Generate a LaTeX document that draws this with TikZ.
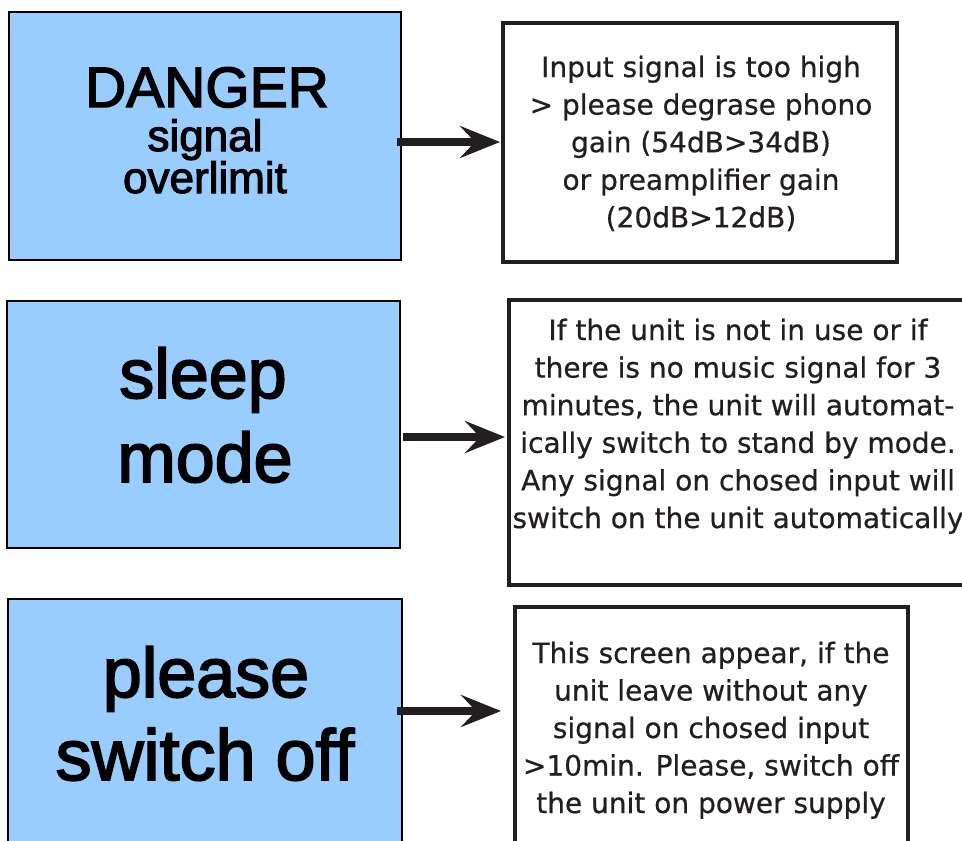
\documentclass[tikz,border=0pt]{standalone}
\usepackage{fontspec}
\setmainfont{Liberation Sans}
\newfontfamily\descfont[FakeBold=0.6]{DejaVu Sans}
\newfontfamily\headfont[FakeBold=2.5]{Liberation Sans}
\usetikzlibrary{fit,arrows.meta}
\definecolor{panelblue}{HTML}{99CCFF}
\definecolor{ink}{HTML}{231F20}
\tikzset{
  bluebox/.style={draw=black, line width=1.6pt, fill=panelblue, inner sep=0pt, outer sep=0pt},
  descbox/.style={draw=ink, line width=4pt, fill=white, inner sep=0pt, outer sep=0pt},
  arr/.style={draw=ink, line width=8pt, -{Stealth[length=40pt,width=32pt,inset=15pt]}},
  rtext/.style={anchor=base, inner sep=0pt, text=ink, font=\descfont\fontsize{28}{34}\selectfont},
  bigtext/.style={anchor=base, inner sep=0pt, text=black, font=\headfont\fontsize{70}{80}\selectfont},
  dangtext/.style={anchor=base, inner sep=0pt, text=black, font=\headfont\fontsize{57}{64}\selectfont},
  subtext/.style={anchor=base, inner sep=0pt, text=black, font=\headfont\fontsize{44}{50}\selectfont},
}
\begin{document}
\begin{tikzpicture}[x=1pt, y=-1pt]
\useasboundingbox (0,0) rectangle (962,841);
% left panels
\node[bluebox, fit={(9,12) (401,260)}] (b1) {};
\node[bluebox, fit={(7,301) (400,548)}] (b2) {};
\node[bluebox, fit={(8,599) (402,870)}] (b3) {};
% description boxes
\node[descbox, fit={(503,23) (897,262)}] (r1) {};
\node[descbox, fit={(509,300) (990,585)}] (r2) {};
\node[descbox, fit={(515,607) (908,870)}] (r3) {};
% panel texts
\node[dangtext] (t1a) at (207,107) {DANGER};
\node[subtext] (t1b) at (205,151) {signal};
\node[subtext] (t1c) at (205,193) {overlimit};
\node[bigtext] (t2a) at (203,398) {sleep};
\node[bigtext] (t2b) at (205,482) {mode};
\node[bigtext] (t3a) at (206,697) {please};
\node[bigtext, font=\headfont\fontsize{72}{80}\selectfont] (t3b) at (205,780) {switch off};
% description texts
\foreach \t [count=\i] in {Input signal is too high, > please degrase phono, gain (54dB>34dB), or preamplifier gain, (20dB>12dB)}
  \node[rtext] (d1\i) at (701,{77+37.6*(\i-1)}) {\t};
\foreach \t [count=\i] in {If the unit is not in use or if, there is no music signal for 3, {minutes, the unit will automat-}, ically switch to stand by mode., Any signal on chosed input will, switch on the unit automatically}
  \node[rtext] (d2\i) at (738,{340+37.6*(\i-1)}) {\t};
\foreach \t [count=\i] in {{This screen appear, if the}, unit leave without any, signal on chosed input, {>10min. Please, switch off}, the unit on power supply}
  \node[rtext] (d3\i) at (711,{663+37.5*(\i-1)}) {\t};
% arrows
\coordinate (a1) at (0,142);
\coordinate (a2) at (0,437);
\coordinate (a3) at (0,711);
\draw[arr, shorten <=-4pt, shorten >=3pt] (b1.east |- a1) -- (r1.west |- a1);
\draw[arr, shorten <=3pt, shorten >=4pt] (b2.east |- a2) -- (r2.west |- a2);
\draw[arr, shorten <=-5pt, shorten >=14pt] (b3.east |- a3) -- (r3.west |- a3);
\end{tikzpicture}
\end{document}
